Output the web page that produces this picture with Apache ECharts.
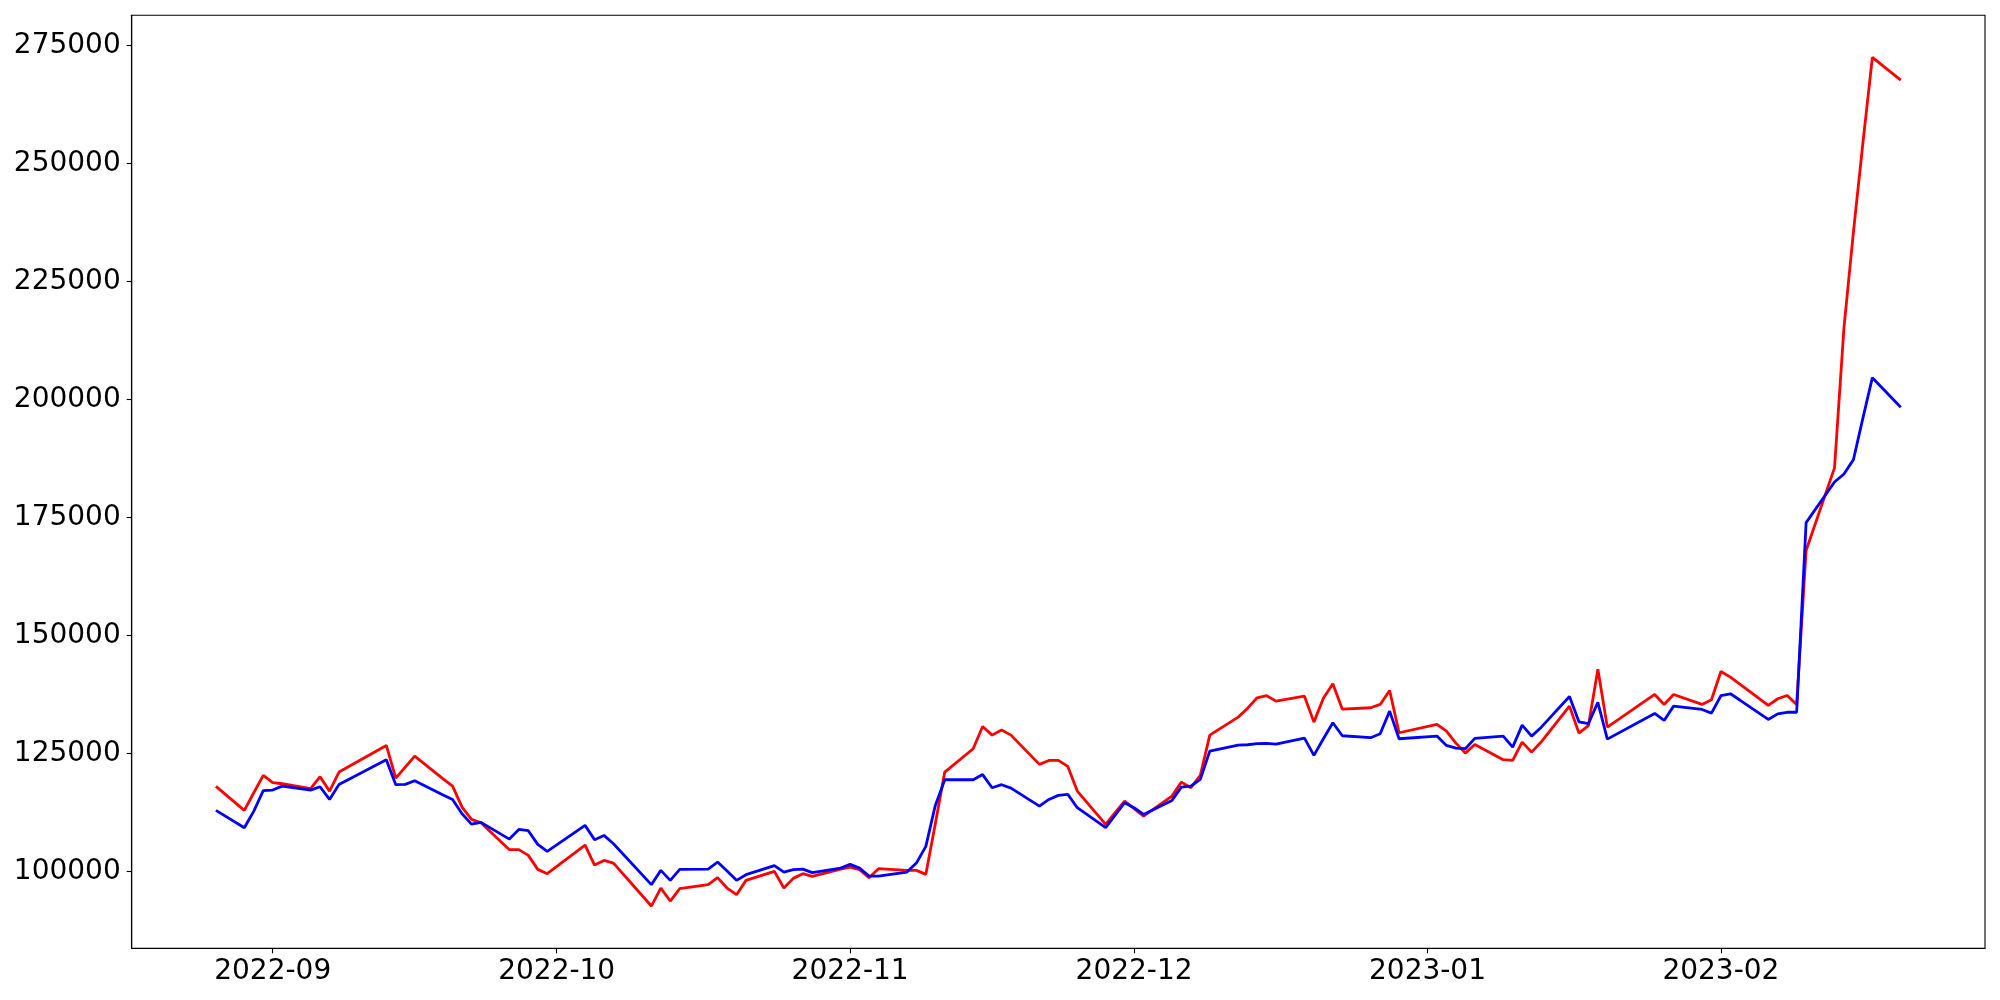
<!DOCTYPE html>
<html>
<head>
<meta charset="utf-8">
<script src="https://cdn.jsdelivr.net/npm/echarts@6/dist/echarts.min.js"></script>
<style>
html,body{margin:0;padding:0;background:#fff;}
#chart{width:2000px;height:1000px;}
</style>
</head>
<body>
<div id="chart"></div>
<script>
const dates = [
'2022-08-26','2022-08-29','2022-08-30','2022-08-31','2022-09-01','2022-09-02',
'2022-09-05','2022-09-06','2022-09-07','2022-09-08','2022-09-13','2022-09-14',
'2022-09-15','2022-09-16','2022-09-19','2022-09-20','2022-09-21','2022-09-22',
'2022-09-23','2022-09-26','2022-09-27','2022-09-28','2022-09-29','2022-09-30',
'2022-10-04','2022-10-05','2022-10-06','2022-10-07','2022-10-11','2022-10-12',
'2022-10-13','2022-10-14','2022-10-17','2022-10-18','2022-10-19','2022-10-20',
'2022-10-21','2022-10-24','2022-10-25','2022-10-26','2022-10-27','2022-10-28',
'2022-10-31','2022-11-01','2022-11-02','2022-11-03','2022-11-04','2022-11-07',
'2022-11-08','2022-11-09','2022-11-10','2022-11-11','2022-11-14','2022-11-15',
'2022-11-16','2022-11-17','2022-11-18','2022-11-21','2022-11-22','2022-11-23',
'2022-11-24','2022-11-25','2022-11-28','2022-11-29','2022-11-30','2022-12-01',
'2022-12-02','2022-12-05','2022-12-06','2022-12-07','2022-12-08','2022-12-09',
'2022-12-12','2022-12-13','2022-12-14','2022-12-15','2022-12-16','2022-12-19',
'2022-12-20','2022-12-21','2022-12-22','2022-12-23','2022-12-26','2022-12-27',
'2022-12-28','2022-12-29','2023-01-02','2023-01-03','2023-01-04','2023-01-05',
'2023-01-06','2023-01-09','2023-01-10','2023-01-11','2023-01-12','2023-01-13',
'2023-01-16','2023-01-17','2023-01-18','2023-01-19','2023-01-20','2023-01-25',
'2023-01-26','2023-01-27','2023-01-30','2023-01-31','2023-02-01','2023-02-02',
'2023-02-03','2023-02-06','2023-02-07','2023-02-08','2023-02-09','2023-02-10',
'2023-02-13','2023-02-14','2023-02-15','2023-02-16','2023-02-17','2023-02-20'
];
const redValues = [
118040,112960,116700,120370,118820,118600,
117550,120090,117040,121070,126720,119800,
122120,124450,119620,118100,113650,111050,
110350,104640,104640,103430,100470,99550,
105610,101380,102370,101800,92700,96510,
93760,96380,97230,98710,96510,95110,
98140,100040,96510,98560,99560,98980,
100530,100950,100400,98710,100610,100250,
100250,99410,110140,121070,126010,130740,
128900,129960,128900,122700,123540,123540,
122270,117040,109990,112460,114930,113320,
111750,115980,118950,117760,120370,128900,
132710,134610,136810,137240,136100,137150,
131650,136730,139780,134400,134700,135400,
138360,129400,131170,129750,127200,125090,
126930,123690,123540,127410,125300,127440,
135040,129330,130890,142870,130590,137510,
135400,137510,135400,136390,142380,141180,
139710,135190,136600,137300,135400,168000,
185500,215200,235470,254300,272430,267640
];
const blueValues = [
112960,109290,112810,117130,117260,118100,
117260,117970,115280,118460,123690,118400,
118460,119240,116230,115280,112250,110060,
110420,106880,108930,108650,105760,104280,
109780,106750,107660,105900,97230,100250,
98140,100470,100530,102010,100110,98140,
99340,101250,99900,100400,100530,99770,
100740,101520,100740,99050,99050,99900,
101800,105330,114010,119450,119450,120540,
117760,118400,117680,113870,115280,116130,
116340,113530,109290,111930,114580,113530,
112110,115070,117890,118100,119520,125510,
126780,126860,127080,127140,126990,128270,
124600,128130,131520,128770,128350,129190,
133980,128130,128690,126720,126150,126010,
128200,128690,126360,131010,128690,130530,
137090,131730,131310,135820,128050,133490,
132010,135040,134340,133560,137240,137660,
136330,132220,133400,133740,133740,173900,
182500,184200,187250,196030,204600,198320
];
const xTickLabels = ['2022-09','2022-10','2022-11','2022-12','2023-01','2023-02'];
const yTickValues = [100000,125000,150000,175000,200000,225000,250000,275000];

function parseDay(s){ const p = s.split('-').map(Number); return Date.UTC(p[0], p[1]-1, p[2] || 1); }
const xTickValues = xTickLabels.map(parseDay);
const t0 = parseDay(dates[0]), t1 = parseDay(dates[dates.length-1]);
const pad = (t1 - t0) * 0.05;

const chart = echarts.init(document.getElementById('chart'), null, {renderer:'canvas'});
const font = 'DejaVu Sans';
chart.setOption({
  animation: false,
  backgroundColor: '#fff',
  grid: {left: 131.7, right: 15, top: 15.3, bottom: 51.7, show: true, borderColor: '#000', borderWidth: 1.1, containLabel: false},
  xAxis: {
    type: 'value', min: t0 - pad, max: t1 + pad, scale: true,
    axisLine: {show: true, onZero: false, lineStyle: {color: '#000', width: 1.1}},
    axisTick: {show: true, customValues: xTickValues, length: 5, lineStyle: {color: '#000', width: 1.1}},
    axisLabel: {customValues: xTickValues, color: '#000', fontFamily: font, fontSize: 28, margin: 9,
      formatter: function(v){ const i = xTickValues.indexOf(v); return i >= 0 ? xTickLabels[i] : ''; }},
    splitLine: {show: false}
  },
  yAxis: {
    type: 'value', min: 83750, max: 281350, scale: true,
    axisLine: {show: true, onZero: false, lineStyle: {color: '#000', width: 1.1}},
    axisTick: {show: true, customValues: yTickValues, length: 5, lineStyle: {color: '#000', width: 1.1}},
    axisLabel: {customValues: yTickValues, color: '#000', fontFamily: font, fontSize: 28, margin: 11,
      formatter: function(v){ return String(v); }},
    splitLine: {show: false}
  },
  series: [
    {type: 'line', data: dates.map((d,i)=>[parseDay(d), redValues[i]]), showSymbol: false, symbol: 'none',
     lineStyle: {color: '#ff0000', width: 2.8}, itemStyle: {color: '#ff0000'}},
    {type: 'line', data: dates.map((d,i)=>[parseDay(d), blueValues[i]]), showSymbol: false, symbol: 'none',
     lineStyle: {color: '#0000ff', width: 2.8}, itemStyle: {color: '#0000ff'}}
  ]
});
</script>
</body>
</html>
